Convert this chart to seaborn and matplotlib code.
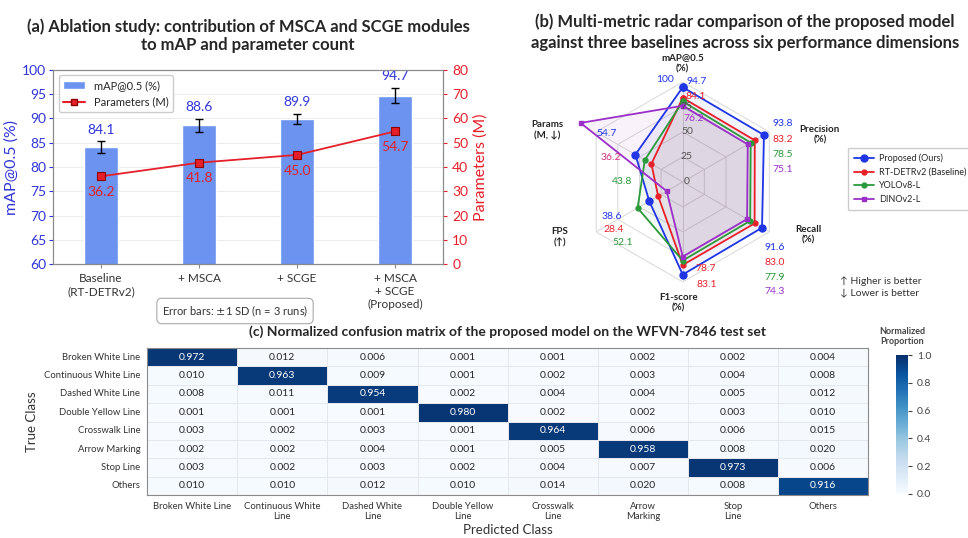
import numpy as np
import pandas as pd
import matplotlib
matplotlib.use("Agg")
import matplotlib.pyplot as plt
from matplotlib.patches import Patch
from matplotlib.lines import Line2D
import seaborn as sns

# ---------------- (a) ablation study ----------------
configs = ["Baseline\n(RT-DETRv2)", "+ MSCA", "+ SCGE", "+ MSCA\n+ SCGE\n(Proposed)"]
map50 = [84.1, 88.6, 89.9, 94.7]
map50_sd = [1.2, 1.3, 1.1, 1.6]
params_m = [36.2, 41.8, 45.0, 54.7]

# ---------------- (b) radar comparison ----------------
metrics = ["mAP@0.5\n(%)", "Precision\n(%)", "Recall\n(%)", "F1-score\n(%)", "FPS\n(↑)", "Params\n(M, ↓)"]
models = ["Proposed (Ours)", "RT-DETRv2 (Baseline)", "YOLOv8-L", "DINOv2-L"]
proposed = [94.7, 93.8, 91.6, 92.7, 38.6, 54.7]
rtdetr = [84.1, 83.2, 83.0, 83.1, 28.4, 36.2]
yolo = [80.5, 78.5, 77.9, 78.7, 52.1, 43.8]
dino = [76.2, 75.1, 74.3, 74.7, 18.5, 118.0]

# ---------------- (c) confusion matrix ----------------
classes = ["Broken White Line", "Continuous White Line", "Dashed White Line", "Double Yellow Line",
           "Crosswalk Line", "Arrow Marking", "Stop Line", "Others"]
pred_labels = ["Broken White Line", "Continuous White\nLine", "Dashed White\nLine", "Double Yellow\nLine",
               "Crosswalk\nLine", "Arrow\nMarking", "Stop\nLine", "Others"]
conf = [
    [0.972, 0.012, 0.006, 0.001, 0.001, 0.002, 0.002, 0.004],
    [0.010, 0.963, 0.009, 0.001, 0.002, 0.003, 0.004, 0.008],
    [0.008, 0.011, 0.954, 0.002, 0.004, 0.004, 0.005, 0.012],
    [0.001, 0.001, 0.001, 0.980, 0.002, 0.002, 0.003, 0.010],
    [0.003, 0.002, 0.003, 0.001, 0.964, 0.006, 0.006, 0.015],
    [0.002, 0.002, 0.004, 0.001, 0.005, 0.958, 0.008, 0.020],
    [0.003, 0.002, 0.003, 0.002, 0.004, 0.007, 0.973, 0.006],
    [0.010, 0.010, 0.012, 0.010, 0.014, 0.020, 0.008, 0.916],
]

sns.set_style("white")
plt.rcParams["font.family"] = ["Lato", "DejaVu Sans"]

BLUE_TXT = "#2f35d8"
BAR_BLUE = "#6b93ef"
RED = "#e5202a"
DARKRED = "#8b0000"
GRAY = "#8a8a8a"
C_BLUE, C_RED, C_GREEN, C_PURPLE = "#1f35e6", "#e8202a", "#2a9a3a", "#9b30c8"

fig = plt.figure(figsize=(9.68, 5.38), dpi=100)

# ======== (a) bars + parameter line ========
ax = fig.add_axes([0.0548, 0.509, 0.403, 0.361])
df_a = pd.DataFrame({"config": configs, "map": map50})
sns.barplot(data=df_a, x="config", y="map", color=BAR_BLUE, saturation=1, width=0.34, ax=ax, zorder=2)
xpos = np.arange(len(configs))
ax.errorbar(xpos, map50, yerr=map50_sd, fmt="none", ecolor="black", elinewidth=1,
            capsize=3, capthick=1, zorder=3)
for x, m, s in zip(xpos, map50, map50_sd):
    ax.annotate(f"{m:.1f}", (x, m + s), xytext=(0, 4), textcoords="offset points",
                ha="center", va="bottom", color=BLUE_TXT, fontsize=10)
ax.set_ylim(60, 100)
ax.set_xlim(-0.49, 3.49)
ax.set_yticks(np.arange(60, 101, 5))
ax.yaxis.grid(True, color="#ececec", lw=0.7, zorder=0)
ax.set_axisbelow(True)
ax.set_xlabel("")
ax.set_ylabel("mAP@0.5 (%)", color=BLUE_TXT, fontsize=11.5, labelpad=2)
ax.tick_params(axis="y", colors=BLUE_TXT, labelsize=10, length=3, left=True, pad=2)
ax.tick_params(axis="x", labelsize=8.5, length=3, bottom=True, colors=GRAY)
for lab in ax.get_xticklabels():
    lab.set_color("#333333")
for sp in ax.spines.values():
    sp.set_color(GRAY)

ax2 = ax.twinx()
ax2.plot(xpos, params_m, color=RED, lw=1.3, marker="s", ms=5.5, mfc=RED, mec=DARKRED,
         mew=0.8, zorder=4)
for x, p in zip(xpos, params_m):
    ax2.annotate(f"{p:.1f}", (x, p), xytext=(0, -7), textcoords="offset points",
                 ha="center", va="top", color=RED, fontsize=10)
ax2.set_ylim(0, 80)
ax2.set_yticks(np.arange(0, 81, 10))
ax2.set_ylabel("Parameters (M)", color=RED, fontsize=11.5)
ax2.tick_params(axis="y", colors=RED, labelsize=10, length=3, right=True)
for sp in ax2.spines.values():
    sp.set_color(GRAY)

ax.legend(handles=[Patch(facecolor=BAR_BLUE, label="mAP@0.5 (%)"),
                   Line2D([0], [0], color=RED, marker="s", ms=5, mfc=RED, mec=DARKRED,
                          label="Parameters (M)")],
          loc="upper left", fontsize=8, frameon=True, edgecolor="#cccccc", framealpha=1)
ax.set_title("(a) Ablation study: contribution of MSCA and SCGE modules\nto mAP and parameter count",
             fontsize=12, fontweight="bold", pad=14)
fig.text(235 / 968, 1 - 311 / 538, "Error bars: $\\pm$1 SD (n = 3 runs)", ha="center", va="center",
         fontsize=8, color="#333333",
         bbox=dict(boxstyle="round,pad=0.45", fc="white", ec="#aaaaaa", lw=0.8))

# ======== (b) radar ========
rax = fig.add_axes([0.602, 0.476, 0.2066, 0.3717], polar=True)
angles = np.deg2rad([90, 30, -30, -90, -150, 150])
closed = np.append(angles, angles[0])
rax.set_ylim(0, 100)
rax.grid(False)
rax.set_xticks([])
rax.set_yticks([])
rax.spines["polar"].set_visible(False)
rax.patch.set_alpha(0)
for r in [25, 50, 75, 100]:
    rax.plot(closed, [r] * len(closed), color="#d8d8d8", lw=0.7, zorder=1)
for a in angles:
    rax.plot([a, a], [0, 100], color="#d8d8d8", lw=0.7, zorder=1)

series = [proposed, rtdetr, yolo, dino]
colors = [C_BLUE, C_RED, C_GREEN, C_PURPLE]
markers = ["o", "o", "o", "s"]
msizes = [5, 3.5, 3.5, 3.5]
for vals, c, mk, ms, name in zip(series, colors, markers, msizes, models):
    v = np.append(vals, vals[0])
    rax.fill(closed, v, color=c, alpha=0.06, zorder=2, clip_on=False)
    rax.plot(closed, v, color=c, lw=1.3, marker=mk, ms=ms, label=name, zorder=3, clip_on=False)

for r, lab in zip([0, 25, 50, 75], ["0", "25", "50", "75"]):
    rax.annotate(lab, (np.pi / 2, r), xytext=(3, 0), textcoords="offset points",
                 ha="center", va="center", fontsize=7.5, color="#555555", zorder=5)
rax.annotate("100", (np.pi / 2, 100), xytext=(-13, 2), textcoords="offset points",
             ha="center", va="center", fontsize=7.5, color=C_BLUE)

# axis names
name_pos = [(90, 119), (19, 145), (-22.8, 136), (-92, 121), (204.4, 135), (159, 145)]
for (deg, r), txt in zip(name_pos, metrics):
    rax.text(np.deg2rad(deg), r, txt, ha="center", va="center", fontsize=7,
             fontweight="bold", color="#222222", linespacing=1.3)


def value_stack(deg, r, items, step=11, dxs=None):
    for i, (val, col) in enumerate(items):
        dx = 0 if dxs is None else dxs[i]
        rax.annotate(f"{val:.1f}", (np.deg2rad(deg), r), xytext=(dx, -i * step),
                     textcoords="offset points", ha="center", va="center",
                     fontsize=7.5, color=col, annotation_clip=False)


# mAP labels next to their points
for val, col, off in [(proposed[0], C_BLUE, (10, 4)), (rtdetr[0], C_RED, (9, 1)), (dino[0], C_PURPLE, (8, -9))]:
    rax.annotate(f"{val:.1f}", (angles[0], val), xytext=off, textcoords="offset points",
                 ha="center", va="center", fontsize=7.5, color=col)
value_stack(30, 116, [(proposed[1], C_BLUE), (rtdetr[1], C_RED), (yolo[1], C_GREEN), (dino[1], C_PURPLE)], step=11)
value_stack(-35.7, 113, [(proposed[2], C_BLUE), (rtdetr[2], C_RED), (yolo[2], C_GREEN), (dino[2], C_PURPLE)], step=10.5)
value_stack(-81.5, 88, [(yolo[3], C_RED), (rtdetr[3], C_RED)], step=11, dxs=[7, 8])
value_stack(206, 79, [(proposed[4], C_BLUE), (rtdetr[4], C_RED), (yolo[4], C_GREEN)], step=9.5, dxs=[0, 1.5, 8])
value_stack(147.7, 90, [(proposed[5], C_BLUE), (rtdetr[5], "#d0307a"), (yolo[5], C_GREEN)], step=17, dxs=[0, 3, 11])

fig.text(745 / 968, 1 - 32 / 538,
         "(b) Multi-metric radar comparison of the proposed model\nagainst three baselines across six performance dimensions",
         ha="center", va="center", fontsize=12, fontweight="bold", linespacing=1.4)
rax.legend(loc="upper left", bbox_to_anchor=(843 / 968, 1 - 143 / 538), bbox_transform=fig.transFigure,
           fontsize=6.5, frameon=True, edgecolor="#cccccc", framealpha=1, handlelength=2.2,
           borderpad=0.7, handletextpad=0.6)
fig.text(840 / 968, 1 - 287 / 538, "↑ Higher is better\n↓ Lower is better", ha="left", va="center",
         fontsize=7.5, color="#333333", linespacing=1.4, family=["Lato", "DejaVu Sans"])

# ======== (c) confusion matrix ========
hax = fig.add_axes([0.152, 0.080, 0.745, 0.273])
cax = fig.add_axes([0.926, 0.082, 0.012, 0.258])
cm = pd.DataFrame(conf, index=classes, columns=pred_labels)
sns.heatmap(cm, ax=hax, cbar_ax=cax, cmap="Blues", vmin=0, vmax=1, annot=True, fmt=".3f",
            annot_kws={"size": 7.5}, linewidths=0.6, linecolor="#e3e7ee")
hax.set_xticklabels(pred_labels, rotation=0, fontsize=6.8, color="#333333")
hax.set_yticklabels(classes, rotation=0, fontsize=6.8, color="#333333")
hax.tick_params(axis="both", length=3, color=GRAY, pad=2)
hax.set_xlabel("Predicted Class", fontsize=9.5, color="#333333", labelpad=2)
hax.set_ylabel("True Class", fontsize=9.5, color="#333333")
for sp in hax.spines.values():
    sp.set_visible(True)
    sp.set_color(GRAY)
hax.set_title("(c) Normalized confusion matrix of the proposed model on the WFVN-7846 test set",
              fontsize=10, fontweight="bold", pad=9)
cbar = hax.collections[0].colorbar
cbar.outline.set_visible(False)
cbar.set_ticks(np.arange(0, 1.01, 0.2))
cax.tick_params(labelsize=7.5, length=3, colors="#444444")
cax.set_title("Normalized\nProportion", fontsize=6.5, fontweight="bold", color="#444444", pad=8)

fig.savefig("out.png", dpi=100)
